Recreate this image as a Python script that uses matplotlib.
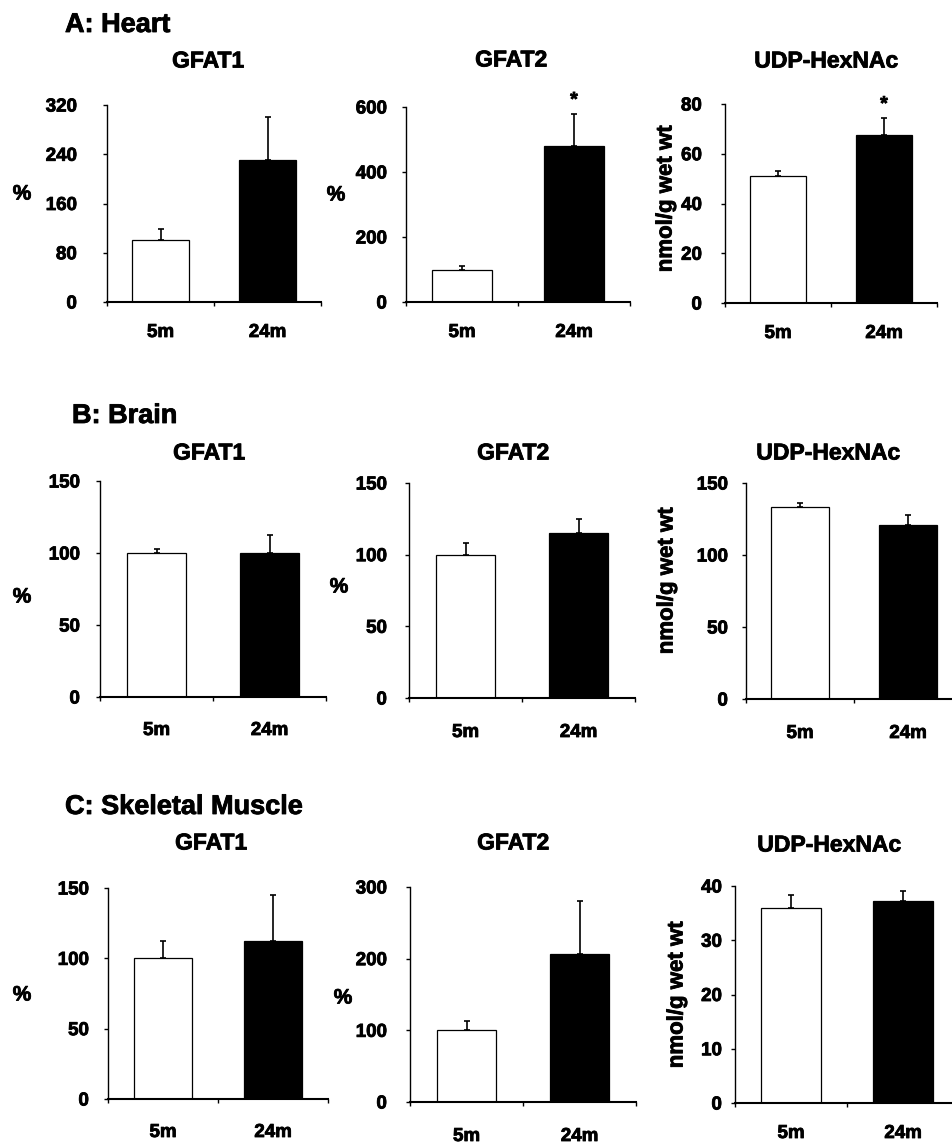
import numpy as np
import matplotlib
matplotlib.use("Agg")
import matplotlib.pyplot as plt
import matplotlib.patheffects as pe

plt.rcParams['font.family'] = ['Liberation Sans', 'DejaVu Sans']
plt.rcParams['font.weight'] = 'bold'

# ------------------------------------------------------------------
# data (mean and upper error bar)
# ------------------------------------------------------------------
categories = ['5m', '24m']

heart_gfat1 = [100, 230]
heart_gfat1_err = [18, 70]
heart_gfat2 = [100, 480]
heart_gfat2_err = [12, 100]
heart_udp = [51, 67.5]
heart_udp_err = [2, 7]

brain_gfat1 = [100, 100]
brain_gfat1_err = [3, 12.5]
brain_gfat2 = [100, 115]
brain_gfat2_err = [8, 10]
brain_udp = [133, 121]
brain_udp_err = [3, 7]

muscle_gfat1 = [100, 112.5]
muscle_gfat1_err = [12.5, 32.5]
muscle_gfat2 = [100, 206]
muscle_gfat2_err = [13, 75]
muscle_udp = [36, 37.2]
muscle_udp_err = [2.3, 1.9]

# significance marks (one flag per bar)
heart_gfat2_sig = [False, True]
heart_udp_sig = [False, True]
no_sig = [False, False]

yticks_heart_gfat1 = [0, 80, 160, 240, 320]
yticks_heart_gfat2 = [0, 200, 400, 600]
yticks_heart_udp = [0, 20, 40, 60, 80]
yticks_150 = [0, 50, 100, 150]
yticks_muscle_gfat2 = [0, 100, 200, 300]
yticks_muscle_udp = [0, 10, 20, 30, 40]

# ------------------------------------------------------------------
# layout (pixels on a 952 x 1143 canvas)
# ------------------------------------------------------------------
W, H = 952, 1143
fig = plt.figure(figsize=(W / 100, H / 100), dpi=100)
heavy = [pe.withStroke(linewidth=0.6, foreground='black')]


def px_axes(x0, x1, ytop, ybot):
    return fig.add_axes([x0 / W, 1 - ybot / H, (x1 - x0) / W, (ybot - ytop) / H])


def fig_text(x, y, s, **kw):
    fig.text(x / W, 1 - y / H, s, fontweight='bold', path_effects=heavy, **kw)


panels = [
    # title, means, errs, sig, yticks, rect, ypad, xpad, ylabel, ylabel pos, title pos
    ('GFAT1', heart_gfat1, heart_gfat1_err, no_sig, yticks_heart_gfat1,
     (107, 321, 105, 302), 26, 22, '%', (22, 194), (208, 61)),
    ('GFAT2', heart_gfat2, heart_gfat2_err, heart_gfat2_sig, yticks_heart_gfat2,
     (406, 630, 107, 302), 15, 22, '%', (336, 195), (511, 60)),
    ('UDP-HexNAc', heart_udp, heart_udp_err, heart_udp_sig, yticks_heart_udp,
     (725, 937, 104, 303), 19, 22, 'nmol/g wet wt', (666, 199), (826, 61)),
    ('GFAT1', brain_gfat1, brain_gfat1_err, no_sig, yticks_150,
     (100, 326, 481, 697), 16, 25, '%', (22, 597), (209, 453)),
    ('GFAT2', brain_gfat2, brain_gfat2_err, no_sig, yticks_150,
     (409, 635, 483, 698), 18, 26, '%', (339, 587), (513, 453)),
    ('UDP-HexNAc', brain_udp, brain_udp_err, no_sig, yticks_150,
     (746, 962, 483, 699), 14, 26, 'nmol/g wet wt', (667, 581), (828, 453)),
    ('GFAT1', muscle_gfat1, muscle_gfat1_err, no_sig, yticks_150,
     (108, 328, 888, 1099), 15, 25, '%', (22, 995), (211, 843)),
    ('GFAT2', muscle_gfat2, muscle_gfat2_err, no_sig, yticks_muscle_gfat2,
     (410, 636, 887, 1102), 19, 26, '%', (343, 998), (513, 843)),
    ('UDP-HexNAc', muscle_udp, muscle_udp_err, no_sig, yticks_muscle_udp,
     (735, 959, 886, 1103), 9, 22, 'nmol/g wet wt', (677, 995), (829, 845)),
]

x = np.arange(len(categories)) + 0.5
colors = ['white', 'black']

for (title, means, errs, sig, yticks, rect, ypad, xpad,
     ylab, ylab_pos, title_pos) in panels:
    ax = px_axes(*rect)
    ax.bar(x, means, width=0.53, color=colors, edgecolor='black', linewidth=0.9, zorder=2)
    ax.errorbar(x, means, yerr=[np.zeros(len(errs)), errs], fmt='none',
                ecolor='black', elinewidth=1.2, capsize=2.2, capthick=1.2, zorder=3)
    for xi, m, e, s in zip(x, means, errs, sig):
        if s:
            ax.annotate('*', (xi, m + e), xytext=(0, 3), textcoords='offset points',
                        ha='center', va='bottom', fontsize=14, fontweight='bold',
                        annotation_clip=False, path_effects=heavy)

    ax.set_xlim(0, 2)
    ax.set_ylim(yticks[0], yticks[-1])
    ax.set_yticks(yticks)
    ax.set_xticks([0, 1, 2])
    ax.set_xticklabels([])
    ax.set_xticks(x, minor=True)
    ax.set_xticklabels(categories, minor=True)
    ax.tick_params(axis='x', which='major', direction='out', length=3, width=1.0)
    ax.tick_params(axis='x', which='minor', length=0, pad=xpad * 0.72, labelsize=13.5)
    ax.tick_params(axis='y', direction='out', length=3, width=1.0, pad=ypad * 0.72,
                   labelsize=13.5)
    for lab in ax.get_xticklabels(minor=True) + ax.get_yticklabels():
        lab.set_fontweight('bold')
        lab.set_path_effects(heavy)

    for side in ('top', 'right'):
        ax.spines[side].set_visible(False)
    ax.spines['left'].set_linewidth(1.0)
    ax.spines['bottom'].set_linewidth(1.5)

    fig_text(title_pos[0], title_pos[1], title, fontsize=16.5, ha='center', va='center')
    if ylab == '%':
        fig_text(ylab_pos[0], ylab_pos[1], ylab, fontsize=15, ha='center', va='center')
    else:
        fig_text(ylab_pos[0], ylab_pos[1], ylab, fontsize=16, ha='center', va='center',
                 rotation=90)

fig_text(65, 25, 'A: Heart', fontsize=19.5, ha='left', va='center')
fig_text(72, 416, 'B: Brain', fontsize=19.5, ha='left', va='center')
fig_text(65, 807, 'C: Skeletal Muscle', fontsize=19.5, ha='left', va='center')

fig.savefig('out.png', dpi=100)
